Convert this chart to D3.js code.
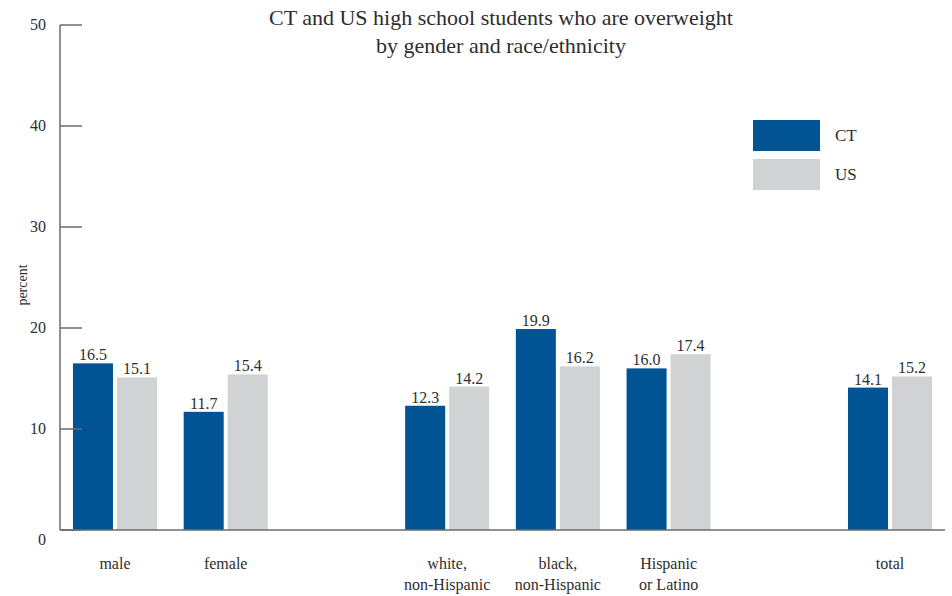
<!DOCTYPE html>
<html><head><meta charset="utf-8">
<script src="https://cdn.jsdelivr.net/npm/d3@7"></script>
<style>body{margin:0;background:#fff}svg{display:block}text{font-family:"Liberation Serif","DejaVu Serif",serif;fill:#2e2e2e}</style>
</head><body><svg id="c" width="952" height="596"></svg>
<script>
const categories = [["male"],["female"],null,["white,","non-Hispanic"],["black,","non-Hispanic"],["Hispanic","or Latino"],null,["total"]];
const ctValues = [16.5, 11.7, null, 12.3, 19.9, 16.0, null, 14.1];
const usValues = [15.1, 15.4, null, 14.2, 16.2, 17.4, null, 15.2];
const seriesNames = ["CT","US"];
const seriesColors = ["#005493","#d1d2d4"];
const yTicks = [0,10,20,30,40,50];
const titleLines = ["CT and US high school students who are overweight","by gender and race/ethnicity"];
const yLabel = "percent";

const svg = d3.select("#c");
const y = d3.scaleLinear().domain([0,50]).range([530,25]);
const x0 = d3.scaleBand().domain(d3.range(categories.length)).range([60,945]).paddingInner(0.241).paddingOuter(0.117);
const x1 = d3.scaleBand().domain(seriesNames).range([0,x0.bandwidth()]).paddingInner(4/44).paddingOuter(0);
const color = d3.scaleOrdinal().domain(seriesNames).range(seriesColors);

// title
svg.append("g").selectAll("text").data(titleLines).join("text")
  .attr("x",501).attr("y",(d,i)=>25+i*28).attr("text-anchor","middle")
  .style("font-size","22px").text(d=>d);

// bars
const rows = categories.map((c,i)=>({i, c, vals:[ctValues[i],usValues[i]]})).filter(d=>d.c);
const g = svg.append("g");
rows.forEach(r=>{
  seriesNames.forEach((s,k)=>{
    const v = r.vals[k];
    const bx = x0(r.i)+x1(s);
    g.append("rect").attr("x",bx).attr("y",y(v)).attr("width",x1.bandwidth()).attr("height",y(0)-y(v)).attr("fill",color(s));
    g.append("text").attr("x",bx+x1.bandwidth()/2).attr("y",y(v)-3).attr("text-anchor","middle")
      .style("font-size","16px").text(v.toFixed(1));
  });
  const t = g.append("text").attr("text-anchor","middle").style("font-size","16px");
  r.c.forEach((line,j)=>t.append("tspan").attr("x",x0(r.i)+x0.bandwidth()/2).attr("y",569+j*20.5).text(line));
});

// axes
const ax = svg.append("g");
ax.append("line").attr("x1",60).attr("x2",60).attr("y1",y(50)).attr("y2",y(0)).attr("stroke","#6b6b6b").attr("stroke-width",1.5);
ax.append("line").attr("x1",60).attr("x2",945).attr("y1",y(0)).attr("y2",y(0)).attr("stroke","#6b6b6b").attr("stroke-width",1.5);
ax.selectAll(".tk").data(yTicks).join("line").attr("x1",60).attr("x2",82).attr("y1",d=>y(d)).attr("y2",d=>y(d)).attr("stroke","#6b6b6b").attr("stroke-width",1.5);
ax.selectAll(".tl").data(yTicks).join("text").attr("x",46).attr("y",d=>y(d)+(d===0?15:5)).attr("text-anchor","end")
  .style("font-size","16px").text(d=>d);
svg.append("text").attr("transform","translate(27,285) rotate(-90)").attr("text-anchor","middle").style("font-size","14px").text(yLabel);

// legend
const lg = svg.append("g");
seriesNames.forEach((s,k)=>{
  lg.append("rect").attr("x",753).attr("y",120+k*39).attr("width",67).attr("height",31).attr("fill",color(s));
  lg.append("text").attr("x",835).attr("y",141+k*39).style("font-size","17px").text(s);
});
</script></body></html>
